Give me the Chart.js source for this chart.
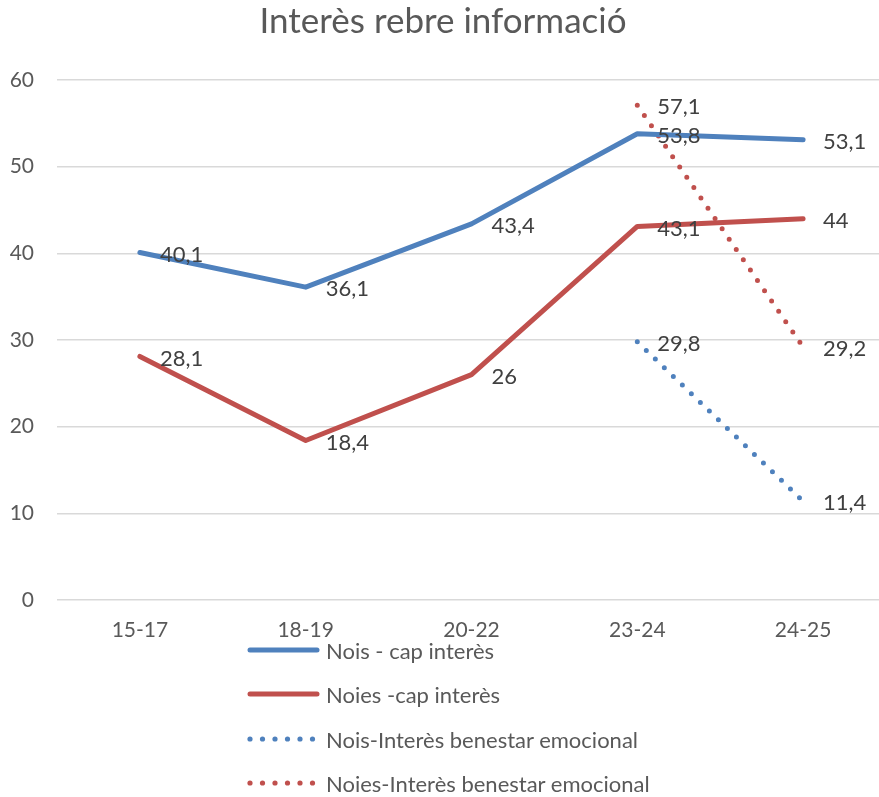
<!DOCTYPE html>
<html>
<head>
<meta charset="utf-8">
<script src="https://cdn.jsdelivr.net/npm/chart.js@4"></script>
<style>
  html, body { margin: 0; padding: 0; background: #fff; overflow: hidden; }
  #wrap { position: relative; width: 879px; height: 797px; overflow: hidden; }
  #wrap canvas { position: absolute; left: 0; top: 0; }
  .legend { position: absolute; left: 247px; top: 0; font: 22px Lato, sans-serif; color: #595959; }
  .legend .row { position: absolute; left: 0; height: 28px; display: flex; align-items: center; white-space: nowrap; }
  .legend svg { margin-right: 6px; }
</style>
</head>
<body>
<div id="wrap">
  <canvas id="chart" width="888" height="797" style="width:888px;height:797px"></canvas>
  <div class="legend" id="legend"></div>
</div>
<script>
// ═══ DATA ═══
const categories = ["15-17", "18-19", "20-22", "23-24", "24-25"];
const noisCap     = [40.1, 36.1, 43.4, 53.8, 53.1];
const noiesCap    = [28.1, 18.4, 26, 43.1, 44];
const noisBenest  = [null, null, null, 29.8, 11.4];
const noiesBenest = [null, null, null, 57.1, 29.2];
const seriesNames = ["Nois - cap interès", "Noies -cap interès", "Nois-Interès benestar emocional", "Noies-Interès benestar emocional"];
const yTicks = [0, 10, 20, 30, 40, 50, 60];

const BLUE = "#4F81BD";
const RED = "#C0504D";
const FONT = "Lato, 'Open Sans', sans-serif";

const fmtC = v => String(v).replace(".", ",");

// Data labels to the right of each point
const pointLabels = {
  id: "pointLabels",
  afterDatasetsDraw(chart) {
    const ctx = chart.ctx;
    ctx.save();
    ctx.fillStyle = "#404040";
    ctx.font = "22px " + FONT;
    ctx.textAlign = "left";
    ctx.textBaseline = "middle";
    chart.data.datasets.forEach((ds, di) => {
      const meta = chart.getDatasetMeta(di);
      meta.data.forEach((pt, i) => {
        const v = ds.data[i];
        if (v == null) return;
        ctx.fillText(fmtC(v), pt.x + 20, pt.y + 2);
      });
    });
    ctx.restore();
  }
};

const solid = (label, data, color) => ({
  label, data, borderColor: color, backgroundColor: color,
  borderWidth: 5, pointRadius: 0, tension: 0, borderCapStyle: "round", borderJoinStyle: "round"
});
const dotted = (label, data, color) => ({
  label, data, borderColor: color, backgroundColor: color,
  borderWidth: 5, borderDash: [0, 12.5], borderCapStyle: "round",
  pointRadius: 0, tension: 0, spanGaps: false
});

new Chart(document.getElementById("chart"), {
  type: "line",
  data: {
    labels: categories,
    datasets: [
      solid(seriesNames[0], noisCap, BLUE),
      solid(seriesNames[1], noiesCap, RED),
      dotted(seriesNames[2], noisBenest, BLUE),
      dotted(seriesNames[3], noiesBenest, RED)
    ]
  },
  options: {
    responsive: false,
    animation: false,
    layout: { padding: { left: 0, right: 2, top: 0, bottom: 0 } },
    plugins: {
      legend: { display: false },
      tooltip: { enabled: false },
      title: {
        display: true, text: "Interès rebre informació",
        color: "#595959", font: { size: 35, family: FONT, weight: "normal" },
        padding: { top: 1, bottom: 37 }
      }
    },
    scales: {
      x: {
        offset: true,
        grid: { display: false, drawTicks: false },
        border: { display: false },
        ticks: { color: "#595959", font: { size: 21, family: FONT }, padding: 18, maxRotation: 0 },
        afterFit: s => { s.height = 197; }
      },
      y: {
        min: 0, max: 60,
        afterBuildTicks: s => { s.ticks = yTicks.map(v => ({ value: v })); },
        grid: { color: "#D9D9D9", lineWidth: 1.5, drawTicks: false },
        border: { display: false },
        ticks: { color: "#595959", font: { size: 21, family: FONT }, padding: 23 },
        afterFit: s => { s.width = 57; }
      }
    }
  },
  plugins: [pointLabels]
});

// ═══ LEGEND (vertical, below the chart) ═══
const legendRows = [
  { name: seriesNames[0], color: BLUE, dots: false, y: 650 },
  { name: seriesNames[1], color: RED, dots: false, y: 694 },
  { name: seriesNames[2], color: BLUE, dots: true, y: 739 },
  { name: seriesNames[3], color: RED, dots: true, y: 783 }
];
const lg = document.getElementById("legend");
legendRows.forEach(r => {
  const row = document.createElement("div");
  row.className = "row";
  row.style.top = (r.y - 14) + "px";
  let sample;
  if (r.dots) {
    let c = "";
    for (let i = 0; i < 6; i++) c += `<circle cx="${3 + i * 12.5}" cy="7" r="2.6" fill="${r.color}"/>`;
    sample = `<svg width="73" height="14">${c}</svg>`;
  } else {
    sample = `<svg width="73" height="14"><line x1="3" y1="7" x2="70" y2="7" stroke="${r.color}" stroke-width="5" stroke-linecap="round"/></svg>`;
  }
  row.innerHTML = sample + `<span>${r.name}</span>`;
  lg.appendChild(row);
});
</script>
</body>
</html>
